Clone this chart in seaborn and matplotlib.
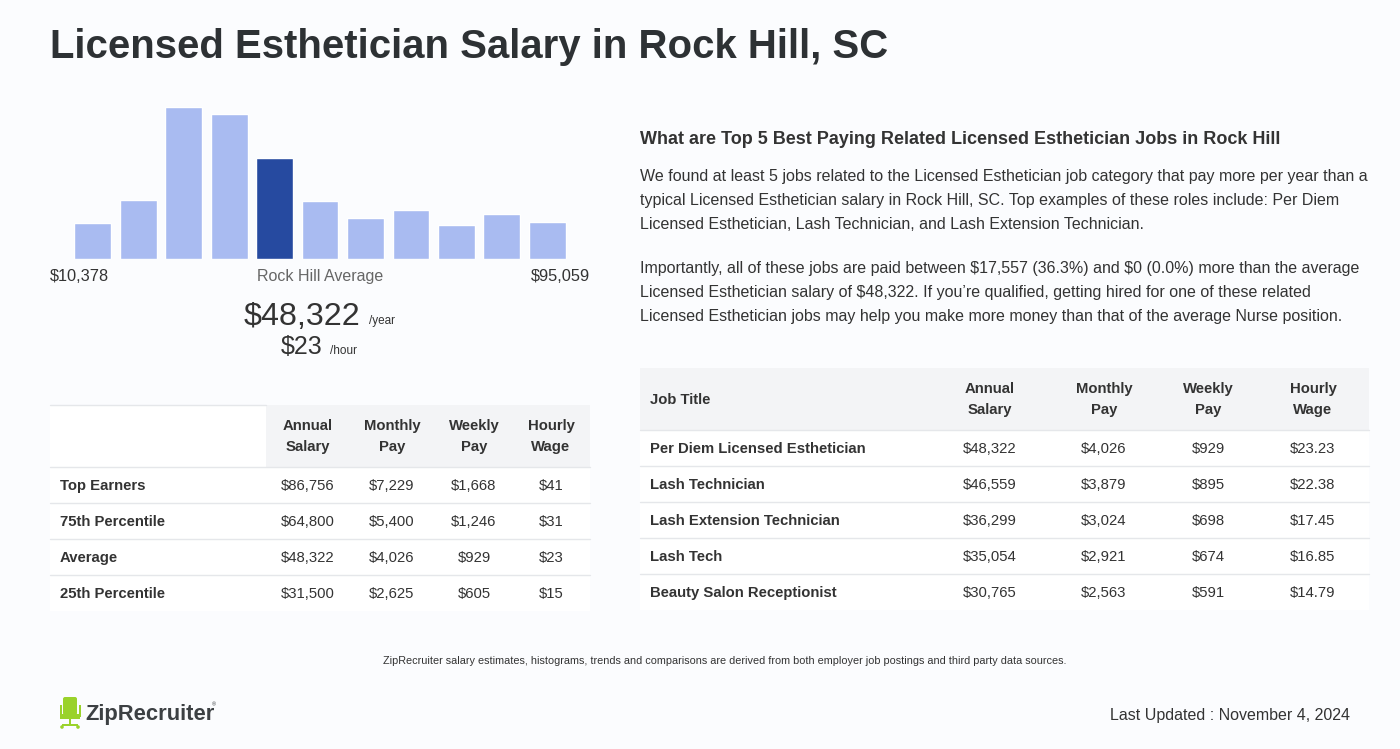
import matplotlib.pyplot as plt
import seaborn as sns
from matplotlib.patches import Rectangle, FancyBboxPatch, Circle

sns.set_theme(style='white')
plt.rcParams['font.family'] = ['Liberation Sans', 'DejaVu Sans']
plt.rcParams['text.parse_math'] = False

# Data
bins = ['b1', 'b2', 'b3', 'b4', 'b5', 'b6', 'b7', 'b8', 'b9', 'b10', 'b11']
counts = [36, 59, 152, 145, 101, 58, 41, 49, 34, 45, 37]
avg_bin = 4
low_label = '$10,378'
high_label = '$95,059'
avg_year = '$48,322'
avg_hour = '$23'

pct_rows = ['Top Earners', '75th Percentile', 'Average', '25th Percentile']
pct_annual = ['$86,756', '$64,800', '$48,322', '$31,500']
pct_monthly = ['$7,229', '$5,400', '$4,026', '$2,625']
pct_weekly = ['$1,668', '$1,246', '$929', '$605']
pct_hourly = ['$41', '$31', '$23', '$15']

jobs = ['Per Diem Licensed Esthetician', 'Lash Technician', 'Lash Extension Technician',
        'Lash Tech', 'Beauty Salon Receptionist']
job_annual = ['$48,322', '$46,559', '$36,299', '$35,054', '$30,765']
job_monthly = ['$4,026', '$3,879', '$3,024', '$2,921', '$2,563']
job_weekly = ['$929', '$895', '$698', '$674', '$591']
job_hourly = ['$23.23', '$22.38', '$17.45', '$16.85', '$14.79']

BG = '#fbfcfe'
DARK = '#2d3134'
TXT = '#333333'
LINE = '#e5e7ea'
HEAD = '#f3f4f6'
FS = 10.75

fig = plt.figure(figsize=(14, 7.49), dpi=100, facecolor=BG)

# overlay axes in pixel coordinates
bg = fig.add_axes([0, 0, 1, 1])
bg.set_xlim(0, 1400)
bg.set_ylim(749, 0)
bg.axis('off')
bg.set_facecolor(BG)


def txt(x, y, s, fs, ha='left', bold=False, color=TXT):
    # y is the middle of the capital letters; put the baseline below it
    base = y + 0.716 * fs * 100 / 72 / 2
    bg.text(x, base, s, fontsize=fs, ha=ha, va='baseline', color=color,
            fontweight='bold' if bold else 'normal')


# histogram
ax = fig.add_axes([70 / 1400, 1 - 259 / 749, 500 / 1400, 159 / 749])
colors = ['#264aa0' if i == avg_bin else '#a9bbf1' for i in range(len(bins))]
sns.barplot(x=bins, y=counts, hue=bins, palette=colors, width=0.81,
            legend=False, ax=ax, saturation=1)
ax.set_xlim(-0.5, len(bins) - 0.5)
ax.set_ylim(0, 159)
ax.axis('off')
ax.patch.set_alpha(0)

# title
txt(50, 44, 'Licensed Esthetician Salary in Rock Hill, SC', 28.9, bold=True, color=DARK)

# histogram labels
txt(50, 275, low_label, 11.8)
txt(320, 275, 'Rock Hill Average', 11.5, ha='center', color='#666666')
txt(590, 275, high_label, 11.8, ha='right')
txt(360, 313, avg_year, 23.2, ha='right')
txt(369, 320, '/year', 8.5)
txt(323, 345, avg_hour, 18, ha='right')
txt(330, 350, '/hour', 8.5)

# left table
bg.add_patch(Rectangle((50, 405), 540, 206, facecolor='white', edgecolor='none'))
bg.add_patch(Rectangle((266, 405), 324, 62, facecolor=HEAD, edgecolor='none'))
bg.plot([50, 266], [405, 405], color=LINE, lw=1)
left_cols = [308, 392, 474, 551]
heads = [('Annual', 'Salary'), ('Monthly', 'Pay'), ('Weekly', 'Pay'), ('Hourly', 'Wage')]
for cx, (a, b) in zip(left_cols, heads):
    txt(cx, 425, a, FS, ha='center', bold=True)
    txt(cx, 446, b, FS, ha='center', bold=True)
for i, name in enumerate(pct_rows):
    y0 = 467 + 36 * i
    bg.plot([50, 590], [y0, y0], color=LINE, lw=1)
    yc = y0 + 18
    txt(60, yc, name, FS, bold=True)
    for cx, v in zip(left_cols, [pct_annual[i], pct_monthly[i], pct_weekly[i], pct_hourly[i]]):
        txt(cx, yc, v, FS, ha='center')

# right text
txt(640, 138, 'What are Top 5 Best Paying Related Licensed Esthetician Jobs in Rock Hill',
    13, bold=True)
para = [
    'We found at least 5 jobs related to the Licensed Esthetician job category that pay more per year than a',
    'typical Licensed Esthetician salary in Rock Hill, SC. Top examples of these roles include: Per Diem',
    'Licensed Esthetician, Lash Technician, and Lash Extension Technician.',
]
para2 = [
    'Importantly, all of these jobs are paid between $17,557 (36.3%) and $0 (0.0%) more than the average',
    'Licensed Esthetician salary of $48,322. If you\u2019re qualified, getting hired for one of these related',
    'Licensed Esthetician jobs may help you make more money than that of the average Nurse position.',
]
for k, line in enumerate(para):
    txt(640, 175 + 24 * k, line, 11.55)
for k, line in enumerate(para2):
    txt(640, 267 + 24 * k, line, 11.55)

# right table
bg.add_patch(Rectangle((640, 368), 729, 242, facecolor='white', edgecolor='none'))
bg.add_patch(Rectangle((640, 368), 729, 62, facecolor=HEAD, edgecolor='none'))
right_cols = [990, 1104, 1208, 1313]
txt(650, 399, 'Job Title', FS, bold=True)
for cx, (a, b) in zip(right_cols, heads):
    txt(cx, 388, a, FS, ha='center', bold=True)
    txt(cx, 409, b, FS, ha='center', bold=True)
for i, name in enumerate(jobs):
    y0 = 430 + 36 * i
    bg.plot([640, 1369], [y0, y0], color=LINE, lw=1)
    yc = y0 + 18
    txt(650, yc, name, FS, bold=True)
    for cx, v in zip(right_cols, [job_annual[i], job_monthly[i], job_weekly[i], job_hourly[i]]):
        txt(cx, yc, v, FS, ha='center')

# footer
txt(725, 660, 'ZipRecruiter salary estimates, histograms, trends and comparisons are derived from '
    'both employer job postings and third party data sources.', 7.85, ha='center')
txt(1350, 714, 'Last Updated : November 4, 2024', 11.5, ha='right')

# logo
green = '#9ad22b'
bg.add_patch(FancyBboxPatch((63, 697), 14, 18, boxstyle='round,pad=0,rounding_size=2',
                            facecolor=green, edgecolor='none'))
bg.add_patch(Rectangle((60, 714), 20, 5, facecolor=green, edgecolor='none'))
bg.add_patch(Rectangle((59.5, 705), 2, 12, facecolor=green, edgecolor='none'))
bg.add_patch(Rectangle((78.5, 705), 2, 12, facecolor=green, edgecolor='none'))
bg.add_patch(Rectangle((69, 719), 2, 6, facecolor=green, edgecolor='none'))
bg.add_patch(Rectangle((62, 724), 16, 2, facecolor=green, edgecolor='none'))
for cx in (62, 78):
    bg.add_patch(Circle((cx, 727), 1.8, facecolor=green, edgecolor='none'))
txt(85, 712, 'ZipRecruiter', 15.8, bold=True, color='#3c4043')
bg.text(214, 705, '\u00ae', fontsize=4, color='#3c4043', ha='center', va='center')

fig.savefig('out.png', dpi=100, facecolor=BG)
